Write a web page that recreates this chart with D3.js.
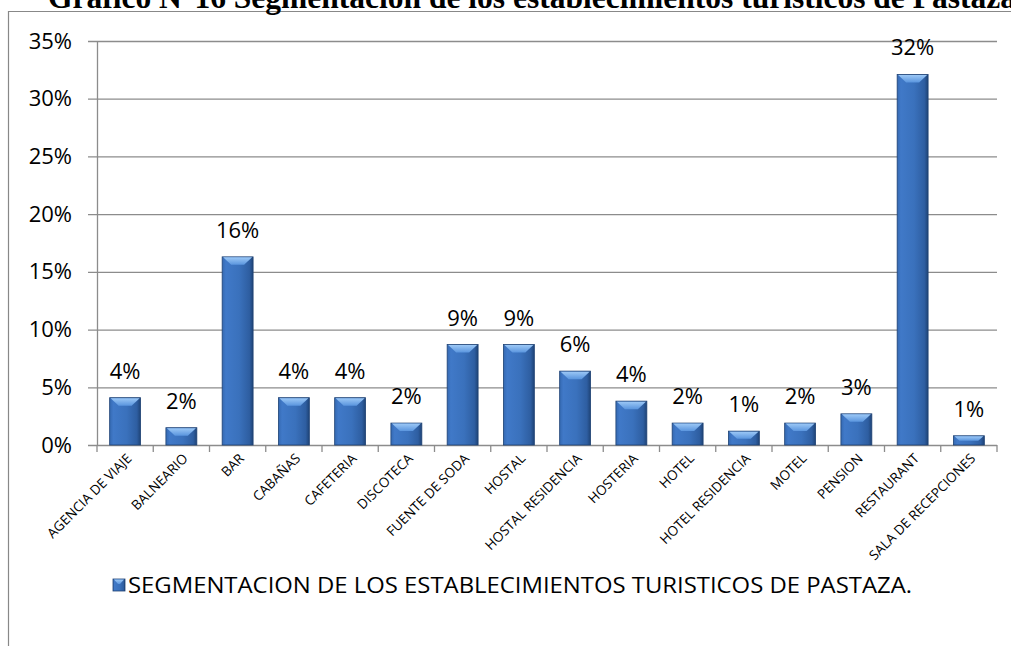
<!DOCTYPE html>
<html>
<head>
<meta charset="utf-8">
<script src="https://cdn.jsdelivr.net/npm/d3@7"></script>
<style>
  body { margin: 0; background: #fff; }
  svg { display: block; }
  text { font-family: 'Open Sans', 'Noto Sans', sans-serif; fill: #000; }
</style>
</head>
<body>
<script>
var categories = ['AGENCIA DE VIAJE', 'BALNEARIO', 'BAR', 'CABAÑAS', 'CAFETERIA', 'DISCOTECA',
  'FUENTE DE SODA', 'HOSTAL', 'HOSTAL RESIDENCIA', 'HOSTERIA', 'HOTEL', 'HOTEL RESIDENCIA',
  'MOTEL', 'PENSION', 'RESTAURANT', 'SALA DE RECEPCIONES'];
var values = [4.1, 1.5, 16.3, 4.1, 4.1, 1.9, 8.7, 8.7, 6.4, 3.8, 1.9, 1.2, 1.9, 2.7, 32.1, 0.8];
var yTicks = [0, 5, 10, 15, 20, 25, 30, 35];
var seriesName = 'SEGMENTACION DE LOS ESTABLECIMIENTOS TURISTICOS DE PASTAZA.';
var title = 'Gráfico N°16 Segmentación de los establecimientos turísticos de Pastaza';

var W = 1011, H = 646;
var svg = d3.select(document.body).append('svg').attr('width', W).attr('height', H);

var defs = svg.append('defs');
var body = defs.append('linearGradient').attr('id', 'barBody')
    .attr('x1', 0).attr('x2', 1).attr('y1', 0).attr('y2', 0);
body.append('stop').attr('offset', '0%').attr('stop-color', '#3569b2');
body.append('stop').attr('offset', '12%').attr('stop-color', '#4079c8');
body.append('stop').attr('offset', '55%').attr('stop-color', '#3a71bc');
body.append('stop').attr('offset', '88%').attr('stop-color', '#2e5ea1');
body.append('stop').attr('offset', '100%').attr('stop-color', '#1e4376');
var bevel = defs.append('linearGradient').attr('id', 'barTop')
    .attr('x1', 0).attr('x2', 0).attr('y1', 0).attr('y2', 1);
bevel.append('stop').attr('offset', '0%').attr('stop-color', '#9cc8f6');
bevel.append('stop').attr('offset', '100%').attr('stop-color', '#5a95de');

// chart frame
svg.append('path').attr('d', 'M8.5,' + H + 'V11.5H' + W)
    .attr('fill', 'none').attr('stroke', '#888').attr('stroke-width', 1.2);

svg.append('text')
    .attr('x', 48).attr('y', 8)
    .style('font-family', "'Liberation Serif', 'Times New Roman', serif")
    .style('font-weight', 'bold').style('font-size', '31.5px')
    .text(title);

var x = d3.scaleBand().domain(categories).range([97, 997]).paddingInner(0.45).paddingOuter(0.225);
var y = d3.scaleLinear().domain([0, 35]).range([445, 41]);

var g = svg.append('g');

// gridlines with short left tick
g.selectAll('.grid').data(yTicks).enter().append('line')
    .attr('x1', 88).attr('x2', 997)
    .attr('y1', function(d) { return y(d) + 0.5; })
    .attr('y2', function(d) { return y(d) + 0.5; })
    .attr('stroke', '#8c8c8c').attr('stroke-width', 1.3);

var yAxis = g.append('g').attr('transform', 'translate(97,0)')
    .call(d3.axisLeft(y).tickValues(yTicks).tickSize(0).tickPadding(25)
      .tickFormat(function(d) { return d + '%'; }));
yAxis.select('.domain').remove();
yAxis.selectAll('text').style('font-size', '22px')
    .style('font-family', "'Open Sans', sans-serif");

g.append('line').attr('x1', 97.5).attr('x2', 97.5).attr('y1', 41).attr('y2', 445)
    .attr('stroke', '#8c8c8c').attr('stroke-width', 1.3);

// category boundary ticks
var bounds = d3.range(categories.length + 1).map(function(i) { return 97 + i * x.step(); });
g.selectAll('.xt').data(bounds).enter().append('line')
    .attr('x1', function(d) { return d; }).attr('x2', function(d) { return d; })
    .attr('y1', 445).attr('y2', 452)
    .attr('stroke', '#8c8c8c').attr('stroke-width', 1.3);

// bars
var bars = g.selectAll('.bar').data(values).enter().append('g');
bars.append('rect')
    .attr('x', function(d, i) { return x(categories[i]); })
    .attr('y', function(d) { return y(d); })
    .attr('width', x.bandwidth())
    .attr('height', function(d) { return y(0) - y(d); })
    .attr('fill', 'url(#barBody)')
    .attr('stroke', '#1f4274').attr('stroke-width', 0.8);
bars.append('path')
    .attr('d', function(d, i) {
      var x0 = x(categories[i]), w = x.bandwidth(), t = y(d);
      var b = Math.min(8, (y(0) - t) * 0.55);
      return 'M' + (x0 + 1) + ',' + (t + 0.5) + 'H' + (x0 + w - 1) +
          'L' + (x0 + w - 1 - b) + ',' + (t + b) + 'H' + (x0 + 1 + b) + 'Z';
    })
    .attr('fill', 'url(#barTop)');

// value labels
g.selectAll('.val').data(values).enter().append('text')
    .attr('x', function(d, i) { return x(categories[i]) + x.bandwidth() / 2; })
    .attr('y', function(d) { return y(d) - 19; })
    .attr('text-anchor', 'middle')
    .style('font-size', '22px')
    .text(function(d) { return Math.round(d) + '%'; });

// category labels
g.selectAll('.cat').data(categories).enter().append('text')
    .attr('transform', function(d) {
      return 'translate(' + (x(d) + x.bandwidth() / 2 + 4) + ',456) rotate(-45)';
    })
    .attr('text-anchor', 'end')
    .attr('dy', '0.35em')
    .style('font-size', '13.5px')
    .text(function(d) { return d; });

// legend
var leg = svg.append('g').attr('transform', 'translate(113,579)');
leg.append('rect').attr('width', 12).attr('height', 12)
    .attr('fill', 'url(#barBody)').attr('stroke', '#1f4274').attr('stroke-width', 0.8);
leg.append('path').attr('d', 'M1,0.5H11L7,5H5Z').attr('fill', 'url(#barTop)');
leg.append('text').attr('x', 15).attr('y', 6).attr('dy', '0.35em')
    .style('font-size', '22px')
    .attr('textLength', 784).attr('lengthAdjust', 'spacingAndGlyphs')
    .text(seriesName);
</script>
</body>
</html>
